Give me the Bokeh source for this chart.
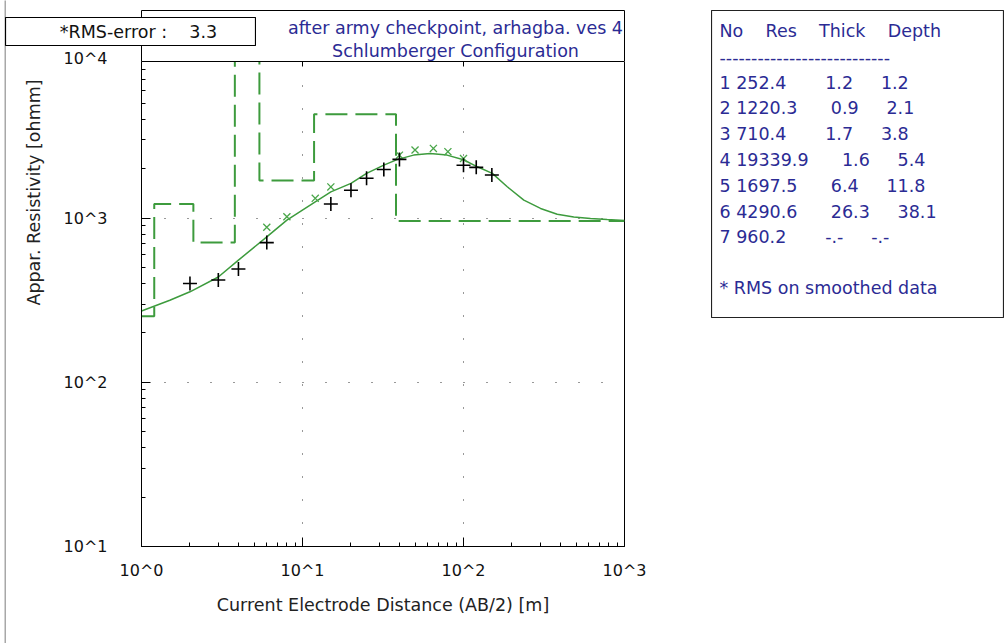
import math
from bokeh.plotting import figure
from bokeh.models import Range1d, FixedTicker, LogAxis, CustomJSTickFormatter
from bokeh.embed import file_html
from bokeh.resources import INLINE
from bokeh.core.properties import value

# ---------------- data ----------------
ab2_obs = [2, 3, 4, 6, 15, 20, 25, 32, 40, 100, 120, 150]
rho_obs = [400, 420, 490, 710, 1220, 1480, 1750, 1980, 2280, 2100, 2040, 1830]

ab2_smooth = [6, 8, 12, 15, 40, 50, 65, 80, 100]
rho_smooth = [880, 1020, 1320, 1550, 2420, 2600, 2660, 2540, 2310]

curve_x = [1, 1.5, 2, 3, 4, 6, 8, 12, 15, 20, 25, 32, 39, 49, 62, 79, 100,
           122, 151, 187, 237, 301, 382, 484, 615, 780, 1000]
curve_y = [272, 316, 356, 438, 555, 769, 973, 1256, 1446, 1630, 1875, 2104,
           2280, 2421, 2478, 2421, 2270, 2055, 1875, 1553, 1288, 1146, 1057,
           1018, 995, 980, 968]

layer_no = [1, 2, 3, 4, 5, 6, 7]
layer_res = [252.4, 1220.3, 710.4, 19339.9, 1697.5, 4290.6, 960.2]
layer_thick = [1.2, 0.9, 1.7, 1.6, 6.4, 26.3, None]
layer_depth = [1.2, 2.1, 3.8, 5.4, 11.8, 38.1, None]

rms_error = 3.3
title_lines = ["after army checkpoint, arhagba. ves 4", "Schlumberger Configuration"]
x_label = "Current Electrode Distance (AB/2) [m]"
y_label = "Appar. Resistivity [ohmm]"
x_ticks = [1, 10, 100, 1000]
y_ticks = [10, 100, 1000]
top_tick_label = "10^4"
x_min, x_max = 1, 1000
y_min, y_max = 10, 9000

# ---------------- style ----------------
FONT = "DejaVu Sans"
GREEN = "#3d9b3d"
XGREEN = "#4aa64a"
NAVY = "#2b2b94"
INK = "#111111"
NB = "\u00a0"


def place(left, top):
    return {"position": "absolute", "left": f"{left}px", "top": f"{top}px"}


def panel(left, top, w, h, outline="black", lw=1.0, bg="white"):
    """A bare figure used as a box/text panel; its data units are pixels."""
    f = figure(width=w, height=h, x_range=Range1d(0, w), y_range=Range1d(h, 0),
               x_axis_location=None, y_axis_location=None,
               output_backend="svg", toolbar_location=None,
               min_border=0, min_border_left=0, min_border_right=0,
               min_border_top=0, min_border_bottom=0, styles=place(left, top))
    f.grid.visible = False
    f.outline_line_color = outline
    f.outline_line_width = lw
    f.background_fill_color = bg
    f.border_fill_color = bg
    return f


# ---------------- main plot ----------------
W, H = 660, 643
LB, TB, FW, FH = 141, 61, 483, 485
p = figure(width=W, height=H, x_axis_type="log", y_axis_type="log",
           x_range=Range1d(x_min, x_max), y_range=Range1d(y_min, y_max),
           output_backend="svg", toolbar_location=None,
           min_border_left=LB, min_border_right=W - LB - FW,
           min_border_top=TB, min_border_bottom=H - TB - FH,
           styles=place(0, 0))
p.background_fill_color = "white"
p.border_fill_color = "white"
p.outline_line_color = "black"
p.outline_line_width = 1

fmt_code = "return '10^' + Math.round(Math.log10(tick));"
xa = p.xaxis[0]
xa.ticker = FixedTicker(ticks=x_ticks,
                        minor_ticks=[k * 10 ** d for d in range(0, 3) for k in range(2, 10)])
xa.formatter = CustomJSTickFormatter(code=fmt_code)
ya = p.yaxis[0]
ya.ticker = FixedTicker(ticks=y_ticks,
                        minor_ticks=[k * 10 ** d for d in range(1, 4) for k in range(2, 10)])
ya.formatter = CustomJSTickFormatter(code=fmt_code)
for ax in (xa, ya):
    ax.major_tick_in = 9
    ax.major_tick_out = 0
    ax.minor_tick_in = 4
    ax.minor_tick_out = 0
    ax.axis_line_color = "black"
    ax.major_tick_line_color = "black"
    ax.minor_tick_line_color = "black"
    ax.major_label_text_font = FONT
    ax.major_label_text_font_size = "16px"
    ax.major_label_text_color = INK
xa.major_label_standoff = 14
ya.major_label_standoff = 34
xa.axis_label = x_label
xa.axis_label_text_font = FONT
xa.axis_label_text_font_size = "17.5px"
xa.axis_label_text_font_style = "normal"
xa.axis_label_text_color = "#222222"
xa.axis_label_standoff = 12

top = LogAxis(ticker=FixedTicker(ticks=x_ticks, minor_ticks=[]),
              formatter=CustomJSTickFormatter(code="return '';"),
              major_tick_in=5, major_tick_out=0, minor_tick_in=0, minor_tick_out=0,
              major_label_text_font_size="1px", axis_line_color="black")
p.add_layout(top, "above")

p.xgrid.ticker = FixedTicker(ticks=[10, 100])
p.ygrid.ticker = FixedTicker(ticks=[100, 1000])
for g in (p.xgrid[0], p.ygrid[0]):
    g.grid_line_color = "#333333"
    g.grid_line_dash = "1 22"
    g.grid_line_width = 1

# layered model (dashed steps)
step_x = [x_min] + layer_depth[:-1] + [x_max]
step_y = layer_res + [layer_res[-1]]
p.step(step_x, step_y, mode="after", line_color=GREEN, line_width=2, line_dash="22 8")
# model response curve
p.line(curve_x, curve_y, line_color=GREEN, line_width=1.5)
# smoothed data and observed data
p.scatter(ab2_smooth, rho_smooth, marker="x", size=10, line_color=XGREEN, line_width=1.3)
p.scatter(ab2_obs, rho_obs, marker="cross", size=14, line_color="black", line_width=1.6)

TXT = dict(text_font=value(FONT), text_baseline="middle")

# ---------------- window edge on the left ----------------
edge = panel(4, 0, 2, H, outline=None, bg="#a8a8a8")

# ---------------- header (title box) ----------------
hdr = panel(LB, 10, FW + 1, 52)
hdr.text(x=[314] * 2, y=[17, 40], text=title_lines, text_align="center",
         text_font_size="17.5px", text_color=NAVY, **TXT)

# ---------------- y axis title ----------------
ylab = panel(19, 67, 28, 250, outline=None)
ylab.text(x=[14], y=[125], text=[y_label], angle=math.pi / 2, text_align="center",
          text_font_size="17.5px", text_color="#222222", **TXT)

# ---------------- tick label of the upper decade ----------------
t4 = panel(57, 48, 50, 22, outline=None)
t4.text(x=[50], y=[10], text=[top_tick_label], text_align="right",
        text_font_size="16px", text_color=INK, **TXT)

# ---------------- RMS box ----------------
rms = panel(5, 17, 251, 29, lw=1.2)
rms.text(x=[133], y=[14.5], text=[f"*RMS-error :{NB*4}{rms_error}"], text_align="center",
         text_font_size="17.5px", text_color=INK, **TXT)

# ---------------- layer table ----------------
tbl = panel(711, 10, 293, 308, outline="#222222", lw=1.2)


def f1(v):
    return "-.-" if v is None else f"{v:.1f}"


lines = [f"No{NB*4}Res{NB*4}Thick{NB*4}Depth", "-" * 27]
for n, r, th, d in zip(layer_no, layer_res, layer_thick, layer_depth):
    rs, ts, ds = f1(r), f1(th), f1(d)
    lines.append(f"{n}{NB}{rs}" + NB * (6 + max(0, 6 - len(rs))) + ts + NB * 5 + ds)
lines.append("* RMS on smoothed data")
ys = [20, 47] + [72 + 25.8 * i for i in range(len(layer_no))] + [277]
tbl.text(x=[8] * len(lines), y=ys, text=lines, text_font_size="17.5px",
         text_color=NAVY, **TXT)

open("out.html", "w").write(file_html([p, edge, hdr, ylab, t4, rms, tbl], INLINE))
